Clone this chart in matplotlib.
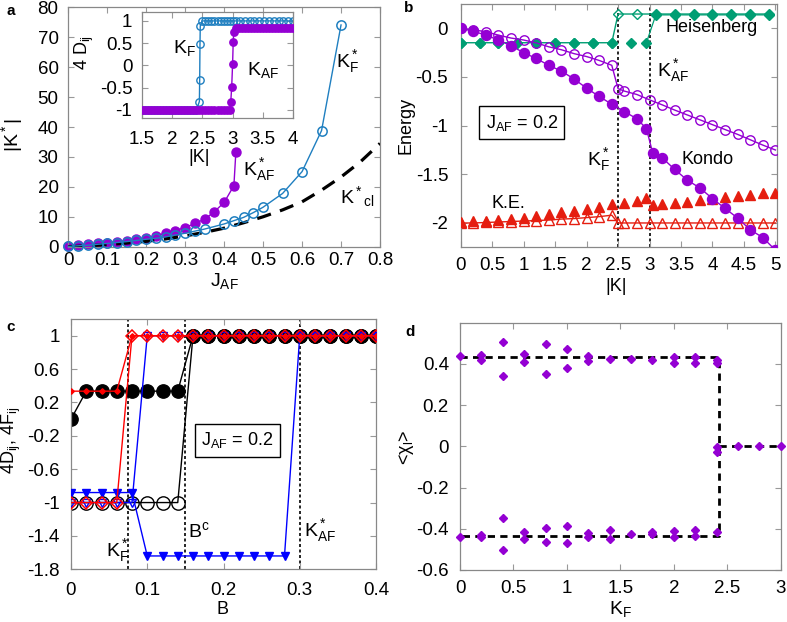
import matplotlib
matplotlib.use("Agg")
import matplotlib.pyplot as plt

plt.rcParams["font.family"] = ["Liberation Sans", "DejaVu Sans"]
plt.rcParams["font.size"] = 13
plt.rcParams["mathtext.fontset"] = "custom"
plt.rcParams["mathtext.rm"] = "Liberation Sans"
plt.rcParams["mathtext.it"] = "Liberation Sans:italic"
plt.rcParams["mathtext.bf"] = "Liberation Sans:bold"
plt.rcParams["mathtext.default"] = "regular"

W, H = 787, 622

C_BLUE = "#1f7fc0"
C_PURPLE = "#9400d3"
C_GREEN = "#009e73"
C_RED = "#e51e10"
C_GRAY = "#999999"
TICK_FS = 13.5
TXT_FS = 13
K_FS = 14

# ---------------- panel a: |K*| vs J_AF ----------------
A_F_X = [0, 0.025, 0.05, 0.075, 0.1, 0.125, 0.15, 0.175, 0.2, 0.225, 0.25, 0.275,
         0.3, 0.325, 0.35, 0.4, 0.425, 0.45, 0.475, 0.5, 0.55, 0.6, 0.65, 0.7]
A_F_Y = [0.1, 0.3, 0.5, 0.8, 1.1, 1.4, 1.7, 2.1, 2.5, 2.8, 3.3, 3.9,
         4.5, 5.2, 5.9, 7.6, 8.7, 9.8, 11.4, 13.2, 17.8, 25.1, 38.8, 74.1]
A_AF_X = [0, 0.025, 0.05, 0.075, 0.1, 0.125, 0.15, 0.175, 0.2, 0.225, 0.25, 0.275,
          0.3, 0.325, 0.35, 0.375, 0.4, 0.425, 0.43]
A_AF_Y = [0.3, 0.7, 0.9, 1.1, 1.3, 1.7, 2.0, 2.5, 3.0, 3.7, 4.5, 5.4,
          6.4, 7.8, 9.2, 11.7, 14.8, 20.4, 31.5]
A_CL_X = [0, 0.05, 0.1, 0.15, 0.2, 0.25, 0.3, 0.35, 0.4, 0.45, 0.5, 0.55,
          0.6, 0.65, 0.7, 0.75, 0.8]
A_CL_Y = [0, 0.3, 0.7, 1.2, 1.8, 2.6, 3.6, 4.8, 6.2, 8.0, 10.0, 12.3,
          15.0, 18.9, 23.3, 28.4, 34.5]

# inset: 4 D_ij vs |K|
IN_F_X = [1.5, 1.55, 1.6, 1.65, 1.7, 1.75, 1.8, 1.85, 1.9, 1.95, 2.0, 2.05, 2.1,
          2.15, 2.2, 2.25, 2.3, 2.35, 2.4, 2.45, 2.455, 2.46, 2.465,
          2.5, 2.55, 2.6, 2.65, 2.7, 2.75, 2.8, 2.85, 2.9, 2.95, 3.0, 3.05,
          3.12, 3.2, 3.28, 3.36, 3.44, 3.52, 3.6, 3.68, 3.76, 3.84, 3.92, 4.0]
IN_F_Y = [-1.0, -1.0, -1.0, -1.0, -1.0, -1.0, -1.0, -1.0, -1.0, -1.0, -1.0, -1.0, -1.0,
          -1.0, -1.0, -1.0, -1.0, -1.0, -1.0, -0.81, -0.33, 0.48, 0.89,
          1.0, 1.0, 1.0, 1.0, 1.0, 1.0, 1.0, 1.0, 1.0, 1.0, 1.0, 1.0,
          1.0, 1.0, 1.0, 1.0, 1.0, 1.0, 1.0, 1.0, 1.0, 1.0, 1.0, 1.0]
IN_AF_X = [1.5, 1.55, 1.6, 1.65, 1.7, 1.75, 1.8, 1.85, 1.9, 1.95, 2.0, 2.05, 2.1,
           2.15, 2.2, 2.25, 2.3, 2.35, 2.4, 2.45, 2.5, 2.55, 2.6, 2.65, 2.7, 2.75,
           2.8, 2.85, 2.9, 2.95, 2.97, 2.985, 3.0, 3.01, 3.02,
           3.05, 3.1, 3.15, 3.2, 3.25, 3.3, 3.35, 3.4, 3.45, 3.5, 3.55, 3.6, 3.65,
           3.7, 3.75, 3.8, 3.85, 3.9, 3.95, 4.0]
IN_AF_Y = [-1.0, -1.0, -1.0, -1.0, -1.0, -1.0, -1.0, -1.0, -1.0, -1.0, -1.0, -1.0, -1.0,
           -1.0, -1.0, -1.0, -1.0, -1.0, -1.0, -1.0, -1.0, -1.0, -1.0, -1.0, -1.0, -1.0,
           -1.0, -1.0, -1.0, -1.0, -0.81, -0.48, 0.03, 0.53, 0.76,
           0.85, 0.85, 0.85, 0.85, 0.85, 0.85, 0.85, 0.85, 0.85, 0.85, 0.85, 0.85, 0.85,
           0.85, 0.85, 0.85, 0.85, 0.85, 0.85, 0.85]

# ---------------- panel b: energies vs |K| ----------------
B_KON_F_X = [0, 0.2, 0.4, 0.6, 0.8, 1.0, 1.2, 1.4, 1.6, 1.8, 2.0, 2.2, 2.4, 2.6, 2.8,
             2.95, 3.05, 3.2, 3.4, 3.6, 3.8, 4.0, 4.2, 4.4, 4.6, 4.8, 5.0]
B_KON_F_Y = [0.0, -0.03, -0.07, -0.12, -0.18, -0.25, -0.31, -0.38, -0.44, -0.52, -0.615,
             -0.70, -0.78, -0.855, -0.93, -1.03, -1.28, -1.33, -1.45, -1.56, -1.64,
             -1.75, -1.85, -1.95, -2.07, -2.15, -2.28]
B_KON_O_X = [0, 0.2, 0.4, 0.6, 0.8, 1.0, 1.2, 1.4, 1.6, 1.8, 2.0, 2.2, 2.4, 2.5, 2.6,
             2.8, 3.0, 3.2, 3.4, 3.6, 3.8, 4.0, 4.2, 4.4, 4.6, 4.8, 5.0]
B_KON_O_Y = [0.0, -0.015, -0.035, -0.07, -0.10, -0.12, -0.15, -0.19, -0.22, -0.26,
             -0.29, -0.33, -0.38, -0.62, -0.645, -0.68, -0.735, -0.786, -0.84, -0.89,
             -0.94, -0.99, -1.04, -1.09, -1.145, -1.2, -1.25]
B_HEI_O_X = [0, 0.3, 0.6, 0.9, 1.2, 1.5, 1.8, 2.1, 2.4, 2.5, 2.8, 3.1, 3.4, 3.7, 4.0,
             4.3, 4.6, 4.9]
B_HEI_O_Y = [-0.148, -0.148, -0.148, -0.148, -0.148, -0.148, -0.148, -0.148, -0.148,
             0.147, 0.147, 0.147, 0.147, 0.147, 0.147, 0.147, 0.147, 0.147]
B_HEI_F1_X = [0, 0.3, 0.6, 0.9, 1.2, 1.5, 1.8, 2.1, 2.4, 2.7, 2.95]
B_HEI_F1_Y = [-0.148, -0.148, -0.148, -0.148, -0.148, -0.148, -0.148, -0.148, -0.148,
              -0.148, -0.148]
B_HEI_F2_X = [2.95, 3.1, 3.4, 3.7, 4.0, 4.3, 4.6, 4.9]
B_HEI_F2_Y = [-0.148, 0.138, 0.138, 0.138, 0.138, 0.138, 0.138, 0.138]
B_KE_F_X = [0, 0.2, 0.4, 0.6, 0.8, 1.0, 1.2, 1.4, 1.6, 1.8, 2.0, 2.2, 2.4, 2.6, 2.8,
            2.95, 3.05, 3.2, 3.4, 3.6, 3.8, 4.0, 4.2, 4.4, 4.6, 4.8, 5.0]
B_KE_F_Y = [-1.99, -1.98, -1.98, -1.97, -1.96, -1.95, -1.93, -1.91, -1.89, -1.88, -1.86,
            -1.84, -1.81, -1.795, -1.77, -1.74, -1.82, -1.81, -1.795, -1.78, -1.765,
            -1.75, -1.73, -1.72, -1.71, -1.695, -1.69]
B_KE_O_X = [0, 0.2, 0.4, 0.6, 0.8, 1.0, 1.2, 1.4, 1.6, 1.8, 2.0, 2.2, 2.4, 2.5, 2.6,
            2.8, 3.0, 3.2, 3.4, 3.6, 3.8, 4.0, 4.2, 4.4, 4.6, 4.8, 5.0]
B_KE_O_Y = [-2.0, -2.0, -1.995, -1.99, -1.985, -1.98, -1.975, -1.97, -1.96, -1.955,
            -1.945, -1.935, -1.92, -2.0, -2.0, -2.0, -2.0, -2.0, -2.0, -2.0, -2.0,
            -2.0, -2.0, -2.0, -2.0, -2.0, -2.0]

# ---------------- panel c: 4D_ij, 4F_ij vs B ----------------
C_X = [0, 0.02, 0.04, 0.06, 0.08, 0.1, 0.12, 0.14, 0.16, 0.18, 0.2, 0.22, 0.24,
       0.26, 0.28, 0.3, 0.32, 0.34, 0.36, 0.38, 0.4]
C_BLK_F = [0.0, 0.335, 0.335, 0.335, 0.335, 0.335, 0.335, 0.335, 1, 1, 1, 1, 1,
           1, 1, 1, 1, 1, 1, 1, 1]
C_BLK_O = [-1, -1, -1, -1, -1, -1, -1, -1, 1, 1, 1, 1, 1, 1, 1, 1, 1, 1, 1, 1, 1]
C_RED_F = [0.335, 0.335, 0.335, 0.335, 1, 1, 1, 1, 1, 1, 1, 1, 1, 1, 1, 1, 1, 1, 1, 1, 1]
C_RED_O = [-1, -1, -1, -1, 1, 1, 1, 1, 1, 1, 1, 1, 1, 1, 1, 1, 1, 1, 1, 1, 1]
C_BLU_F = [-0.88, -0.88, -0.88, -0.88, -0.88, -1.64, -1.64, -1.64, -1.64, -1.64,
           -1.64, -1.64, -1.64, -1.64, -1.64, 1, 1, 1, 1, 1, 1]
C_BLU_O = [-1, -1, -1, -1, -1, 1, 1, 1, 1, 1, 1, 1, 1, 1, 1, 1, 1, 1, 1, 1, 1]

# ---------------- panel d: <chi_l> vs K_F ----------------
D_UP_X = [0, 0.2, 0.2, 0.4, 0.4, 0.6, 0.6, 0.8, 0.8, 1.0, 1.0, 1.2, 1.2, 1.4, 1.6,
          1.8, 2.0, 2.0, 2.2, 2.2, 2.4, 2.4]
D_UP_Y = [0.439, 0.444, 0.42, 0.505, 0.343, 0.449, 0.411, 0.497, 0.351, 0.471, 0.382,
          0.439, 0.416, 0.423, 0.423, 0.419, 0.432, 0.406, 0.432, 0.403, 0.419, 0.406]
D_LO_X = [0, 0.2, 0.2, 0.4, 0.4, 0.6, 0.6, 0.8, 0.8, 1.0, 1.0, 1.2, 1.2, 1.4, 1.4,
          1.6, 1.8, 1.8, 2.0, 2.0, 2.2, 2.2, 2.4]
D_LO_Y = [-0.441, -0.43, -0.44, -0.349, -0.503, -0.414, -0.451, -0.394, -0.466,
          -0.386, -0.471, -0.419, -0.441, -0.406, -0.451, -0.427, -0.417, -0.427,
          -0.409, -0.441, -0.406, -0.435, -0.414]
D_ZERO_X = [2.4, 2.4, 2.6, 2.8, 3.0]
D_ZERO_Y = [-0.001, -0.026, 0.0, 0.0, 0.0]
D_STEP_X = [0, 2.42, 2.42, 0]
D_STEP_Y = [0.433, 0.433, -0.433, -0.433]
D_TAIL_X = [2.42, 3.0]
D_TAIL_Y = [0.0, 0.0]


def add_axes_px(fig, left, top, right, bottom):
    return fig.add_axes([left / W, 1 - bottom / H, (right - left) / W, (bottom - top) / H])


def style_axes(ax, xpad, ypad):
    for sp in ax.spines.values():
        sp.set_color("#888888")
        sp.set_linewidth(0.9)
    ax.tick_params(direction="in", length=4, width=0.8, color=C_GRAY,
                   top=True, right=True, labelsize=TICK_FS)
    ax.tick_params(axis="x", pad=xpad)
    ax.tick_params(axis="y", pad=ypad)


def ftext(fig, x, y, s, **kw):
    fig.text(x / W, 1 - y / H, s, **kw)


def vdots(ax, x):
    ax.axvline(x, color="black", lw=1.2, linestyle=(0, (1.8, 1.5)), zorder=1)


fig = plt.figure(figsize=(W / 100, H / 100), dpi=100)

# ================= a =================
ax = add_axes_px(fig, 68.3, 7.3, 380, 246.7)
ax.plot(A_AF_X, A_AF_Y, color=C_PURPLE, lw=1, marker="o", ms=6.5, mec=C_PURPLE,
        mfc=C_PURPLE, zorder=2, clip_on=False)
ax.plot(A_CL_X, A_CL_Y, color="black", lw=2.3, dashes=(4.5, 3), zorder=3)
ax.plot(A_F_X, A_F_Y, color=C_BLUE, lw=1, marker="o", ms=6.7, mec=C_BLUE,
        mfc="none", mew=1.1, zorder=4, clip_on=False)
ax.set_xlim(0, 0.8)
ax.set_ylim(0, 80)
ax.set_xticks([0, 0.1, 0.2, 0.3, 0.4, 0.5, 0.6, 0.7, 0.8])
ax.set_xticklabels(["0", "0.1", "0.2", "0.3", "0.4", "0.5", "0.6", "0.7", "0.8"])
ax.set_yticks([0, 10, 20, 30, 40, 50, 60, 70, 80])
style_axes(ax, 4, 7)
ax.text(0.688, 62, r"K$^*_F$", fontsize=K_FS, va="center")
ax.text(0.449, 25.7, r"K$^*_{AF}$", fontsize=K_FS, va="center")
ax.text(0.698, 16.7, r"K$^*{}_{cl}$", fontsize=K_FS, va="center")

ins = add_axes_px(fig, 142, 12, 293, 118)
ins.plot(IN_F_X, IN_F_Y, color=C_BLUE, lw=1, marker="o", ms=5.3, mec=C_BLUE,
         mfc="none", mew=1.0, zorder=2)
ins.plot(IN_AF_X, IN_AF_Y, color=C_PURPLE, lw=1, marker="o", ms=5.3, mec=C_PURPLE,
         mfc=C_PURPLE, zorder=3)
ins.set_xlim(1.5, 4.0)
ins.set_ylim(-1.18, 1.2)
ins.set_xticks([1.5, 2, 2.5, 3, 3.5, 4])
ins.set_xticklabels(["1.5", "2", "2.5", "3", "3.5", "4"])
ins.set_yticks([-1, -0.5, 0, 0.5, 1])
ins.set_yticklabels(["-1", "-0.5", "0", "0.5", "1"])
style_axes(ins, 9, 7)
ins.text(2.01, 0.39, r"K$_F$", fontsize=K_FS, va="center")
ins.text(3.24, -0.1, r"K$_{AF}$", fontsize=K_FS, va="center")
ftext(fig, 199, 157, "|K|", ha="center", va="center", fontsize=TXT_FS)
ftext(fig, 84, 52, r"4 D$_{ij}$", ha="center", va="center", rotation=90, fontsize=TXT_FS)

ftext(fig, 12, 135, r"|K$^*$|", ha="center", va="center", rotation=90, fontsize=K_FS)
ftext(fig, 224, 281, r"J$_{AF}$", ha="center", va="center", fontsize=K_FS)
ftext(fig, 11, 11, "a", ha="center", va="center", fontsize=11, fontweight="bold")

# ================= b =================
ax = add_axes_px(fig, 460.7, 4, 776.7, 247.3)
vdots(ax, 2.5)
vdots(ax, 3.0)
ax.plot(B_KE_O_X, B_KE_O_Y, color=C_RED, lw=1, marker="^", ms=7, mec=C_RED,
        mfc="none", mew=1.0, zorder=2)
ax.plot(B_KE_F_X, B_KE_F_Y, color=C_RED, lw=0, marker="^", ms=7, mec=C_RED,
        mfc=C_RED, zorder=3)
ax.plot(B_HEI_O_X, B_HEI_O_Y, color=C_GREEN, lw=1, marker="D", ms=5.2, mec=C_GREEN,
        mfc="none", mew=1.0, zorder=3)
ax.plot(B_HEI_F1_X, B_HEI_F1_Y, color=C_GREEN, lw=0, marker="D", ms=5.2, mec=C_GREEN,
        mfc=C_GREEN, zorder=4)
ax.plot(B_HEI_F2_X, B_HEI_F2_Y, color=C_GREEN, lw=0.9, marker="D", ms=5.2, mec=C_GREEN,
        mfc=C_GREEN, markevery=list(range(1, len(B_HEI_F2_X))), zorder=4)
ax.plot(B_KON_O_X, B_KON_O_Y, color=C_PURPLE, lw=1, marker="o", ms=6.8, mec=C_PURPLE,
        mfc="none", mew=1.0, zorder=5)
ax.plot(B_KON_F_X, B_KON_F_Y, color=C_PURPLE, lw=1, marker="o", ms=7.2, mec=C_PURPLE,
        mfc=C_PURPLE, zorder=6)
ax.set_xlim(0, 5.02)
ax.set_ylim(-2.25, 0.25)
ax.set_xticks([0, 0.5, 1, 1.5, 2, 2.5, 3, 3.5, 4, 4.5, 5])
ax.set_xticklabels(["0", "0.5", "1", "1.5", "2", "2.5", "3", "3.5", "4", "4.5", "5"])
ax.set_yticks([-2, -1.5, -1, -0.5, 0])
ax.set_yticklabels(["-2", "-1.5", "-1", "-0.5", "0"])
style_axes(ax, 7, 9)
ax.text(3.25, 0.005, "Heisenberg", fontsize=TXT_FS, va="center")
ax.text(3.12, -0.43, r"K$^*_{AF}$", fontsize=K_FS, va="center")
ax.text(2.0, -1.35, r"K$^*_F$", fontsize=K_FS, va="center")
ax.text(3.51, -1.35, "Kondo", fontsize=TXT_FS, va="center")
ax.text(0.49, -1.795, "K.E.", fontsize=TXT_FS, va="center")
ax.text(0.97, -0.97, r"J$_{AF}$ = 0.2", fontsize=TXT_FS, ha="center", va="center",
        bbox=dict(boxstyle="square,pad=0.35", facecolor="white", edgecolor="black", lw=1))
ftext(fig, 406, 125, "Energy", ha="center", va="center", rotation=90, fontsize=TXT_FS)
ftext(fig, 616, 286, "|K|", ha="center", va="center", fontsize=TXT_FS)
ftext(fig, 409, 8, "b", ha="center", va="center", fontsize=11, fontweight="bold")

# ================= c =================
ax = add_axes_px(fig, 71, 319, 376, 569.3)
vdots(ax, 0.075)
vdots(ax, 0.15)
vdots(ax, 0.3)
ax.plot(C_X, C_BLK_F, color="black", lw=1, marker="o", ms=9.6, mec="black",
        mfc="black", zorder=2)
ax.plot(C_X, C_BLK_O, color="black", lw=1, marker="o", ms=9.6, mec="black",
        mfc="none", mew=1.0, zorder=2)
ax.plot(C_X, C_BLU_O, color="blue", lw=1, marker="v", ms=5.5, mec="blue",
        mfc="none", mew=1.0, zorder=3)
ax.plot(C_X, C_BLU_F, color="blue", lw=1, marker="v", ms=5.5, mec="blue",
        mfc="blue", zorder=3)
ax.plot(C_X, C_RED_O, color="red", lw=1, marker="D", ms=6.4, mec="red",
        mfc="none", mew=1.1, zorder=4)
ax.plot(C_X, C_RED_F, color="red", lw=1, marker="D", ms=2.8, mec="red",
        mfc="red", zorder=5)
ax.set_xlim(0, 0.4)
ax.set_ylim(-1.8, 1.2)
ax.set_xticks([0, 0.1, 0.2, 0.3, 0.4])
ax.set_xticklabels(["0", "0.1", "0.2", "0.3", "0.4"])
ax.set_yticks([-1.8, -1.4, -1, -0.6, -0.2, 0.2, 0.6, 1])
ax.set_yticklabels(["-1.8", "-1.4", "-1", "-0.6", "-0.2", "0.2", "0.6", "1"])
style_axes(ax, 9, 8)
ax.text(0.046, -1.57, r"K$^*_F$", fontsize=K_FS, va="center")
ax.text(0.153, -1.34, r"B$^c$", fontsize=K_FS, va="center")
ax.text(0.305, -1.34, r"K$^*_{AF}$", fontsize=K_FS, va="center")
ax.text(0.218, -0.255, r"J$_{AF}$ = 0.2", fontsize=TXT_FS, ha="center", va="center",
        bbox=dict(boxstyle="square,pad=0.35", facecolor="white", edgecolor="black", lw=1))
ftext(fig, 11, 440, r"4D$_{ij}$, 4F$_{ij}$", ha="center", va="center", rotation=90,
      fontsize=TXT_FS)
ftext(fig, 223, 609, "B", ha="center", va="center", fontsize=TXT_FS)
ftext(fig, 11, 327, "c", ha="center", va="center", fontsize=11, fontweight="bold")

# ================= d =================
ax = add_axes_px(fig, 460, 322.7, 780.7, 570)
ax.plot(D_STEP_X, D_STEP_Y, color="black", lw=2.0, dashes=(2.6, 1.9), zorder=2)
ax.plot(D_TAIL_X, D_TAIL_Y, color="black", lw=2.0, dashes=(2.6, 1.9), zorder=2)
for xs, ys in ((D_UP_X, D_UP_Y), (D_LO_X, D_LO_Y), (D_ZERO_X, D_ZERO_Y)):
    ax.plot(xs, ys, lw=0, marker="D", ms=4.3, mec=C_PURPLE, mfc=C_PURPLE, zorder=3,
            clip_on=False)
ax.set_xlim(0, 3)
ax.set_ylim(-0.6, 0.6)
ax.set_xticks([0, 0.5, 1, 1.5, 2, 2.5, 3])
ax.set_xticklabels(["0", "0.5", "1", "1.5", "2", "2.5", "3"])
ax.set_yticks([-0.6, -0.4, -0.2, 0, 0.2, 0.4])
ax.set_yticklabels(["-0.6", "-0.4", "-0.2", "0", "0.2", "0.4"])
style_axes(ax, 7, 8)
ftext(fig, 406, 447, r"<$\chi_l$>", ha="center", va="center", rotation=90, fontsize=TXT_FS)
ftext(fig, 620, 599, r"K$_F$", ha="center", va="top", fontsize=K_FS)
ftext(fig, 410, 332, "d", ha="center", va="center", fontsize=11, fontweight="bold")

fig.savefig("out.png", dpi=100)
